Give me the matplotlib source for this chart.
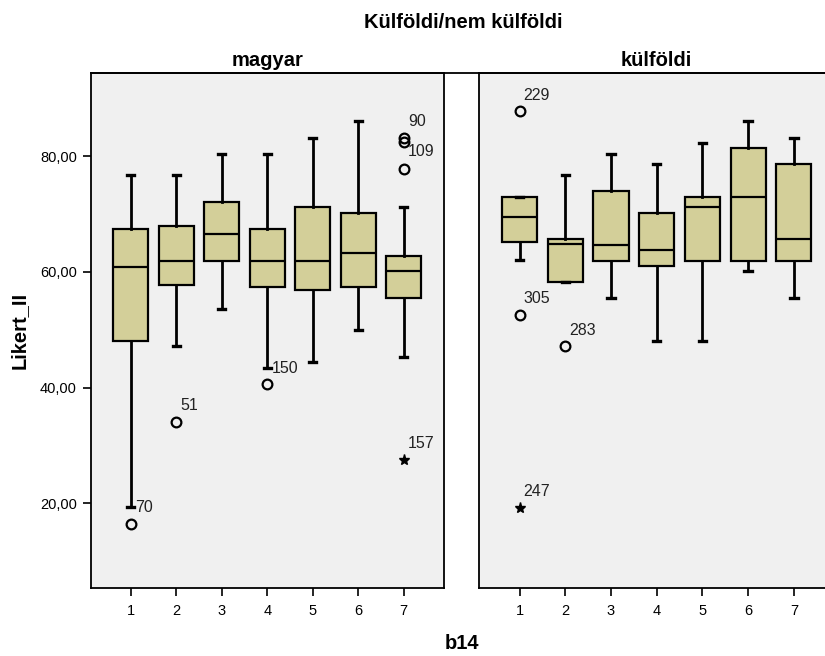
import matplotlib
matplotlib.use("Agg")
import matplotlib.pyplot as plt
from matplotlib.lines import Line2D

plt.rcParams["font.family"] = ["Liberation Sans", "DejaVu Sans"]

# b14 categories (1..7), one box per category, per panel
categories = [1, 2, 3, 4, 5, 6, 7]
panels = ["magyar", "külföldi"]

# five-number summaries: whisker low, Q1, median, Q3, whisker high
magyar_whislo = [19.3, 47.1, 53.6, 43.4, 44.4, 49.9, 45.3]
magyar_q1 = [48.0, 57.7, 61.9, 57.3, 56.9, 57.3, 55.4]
magyar_med = [60.9, 61.9, 66.6, 61.9, 61.9, 63.3, 60.1]
magyar_q3 = [67.4, 68.0, 72.1, 67.4, 71.2, 70.2, 62.8]
magyar_whishi = [76.7, 76.7, 80.4, 80.4, 83.2, 86.0, 71.2]

kulfoldi_whislo = [62.0, 58.2, 55.4, 48.0, 48.0, 60.1, 55.4]
kulfoldi_q1 = [65.1, 58.2, 61.9, 61.0, 61.9, 61.9, 61.9]
kulfoldi_med = [69.4, 64.8, 64.7, 63.8, 71.2, 73.0, 65.6]
kulfoldi_q3 = [73.0, 65.6, 74.0, 70.2, 73.0, 81.4, 78.6]
kulfoldi_whishi = [73.0, 76.7, 80.4, 78.6, 82.3, 86.0, 83.2]

# outliers: (category, value, case id, kind) -- kind 'o' mild, '*' extreme
magyar_outliers = [
    (1, 16.5, "70", "o"),
    (2, 34.1, "51", "o"),
    (4, 40.6, "150", "o"),
    (7, 83.2, "90", "o"),
    (7, 82.5, "109", "o"),
    (7, 77.7, "", "o"),
    (7, 27.5, "157", "*"),
]
kulfoldi_outliers = [
    (1, 87.8, "229", "o"),
    (1, 52.6, "305", "o"),
    (2, 47.1, "283", "o"),
    (1, 19.2, "247", "*"),
]

y_ticks = [20, 40, 60, 80]

BOX_COLOR = "#d3cf99"
BG_COLOR = "#f0f0f0"
BOLD_SIZE = 14.5


def build_stats(lo, q1, med, q3, hi):
    return [dict(whislo=a, q1=b, med=c, q3=d, whishi=e, fliers=[])
            for a, b, c, d, e in zip(lo, q1, med, q3, hi)]


def draw_panel(ax, stats, outliers, title):
    ax.set_facecolor(BG_COLOR)
    ax.bxp(stats, positions=categories, widths=0.77, capwidths=0.16,
           showfliers=False, patch_artist=True,
           boxprops=dict(facecolor=BOX_COLOR, edgecolor="black", linewidth=1.6),
           medianprops=dict(color="black", linewidth=1.6),
           whiskerprops=dict(color="black", linewidth=2.0),
           capprops=dict(color="black", linewidth=2.4))
    for cat, val, label, kind in outliers:
        if kind == "o":
            ax.plot(cat, val, marker="o", markersize=7, markerfacecolor="none",
                    markeredgecolor="black", markeredgewidth=1.6, zorder=4)
        else:
            ax.plot(cat, val, marker="*", markersize=8, color="black", zorder=4)
        if label:
            dy = -7 if label == "109" else 11.5
            ax.annotate(label, (cat, val), xytext=(3, dy), textcoords="offset points",
                        ha="left", va="center", fontsize=11.5, color="#222222")
    ax.set_xlim(0.12, 7.88)
    ax.set_ylim(5.4, 94.4)
    ax.set_xticks(categories)
    ax.set_xticklabels([str(c) for c in categories], fontsize=10.5)
    ax.tick_params(axis="x", direction="out", length=6, width=1.2, pad=6)
    ax.set_title(title, fontsize=BOLD_SIZE, fontweight="bold", pad=5)
    for side in ax.spines.values():
        side.set_linewidth(1.3)


fig = plt.figure(figsize=(8.25, 6.56), dpi=100)
ax1 = fig.add_axes([0.110, 0.104, 0.428, 0.785])
ax2 = fig.add_axes([0.581, 0.104, 0.430, 0.785])

draw_panel(ax1, build_stats(magyar_whislo, magyar_q1, magyar_med, magyar_q3, magyar_whishi),
           magyar_outliers, panels[0])
draw_panel(ax2, build_stats(kulfoldi_whislo, kulfoldi_q1, kulfoldi_med, kulfoldi_q3, kulfoldi_whishi),
           kulfoldi_outliers, panels[1])

ax1.set_yticks(y_ticks)
ax1.set_yticklabels([f"{t:.2f}".replace(".", ",") for t in y_ticks], fontsize=10.5)
ax1.tick_params(axis="y", direction="out", length=6, width=1.2, pad=4)
ax1.set_ylabel("Likert_II", fontsize=BOLD_SIZE, fontweight="bold", labelpad=8)

ax2.set_yticks([])
ax2.spines["right"].set_visible(False)

# shared top rule across both panels
fig.add_artist(Line2D([0.110, 1.0], [0.889, 0.889], color="black", linewidth=1.3,
                      transform=fig.transFigure))

fig.text(0.562, 0.965, "Külföldi/nem külföldi", ha="center", va="center",
         fontsize=BOLD_SIZE, fontweight="bold")
fig.text(0.560, 0.019, "b14", ha="center", va="center", fontsize=BOLD_SIZE,
         fontweight="bold")

fig.savefig("out.png", dpi=100)
